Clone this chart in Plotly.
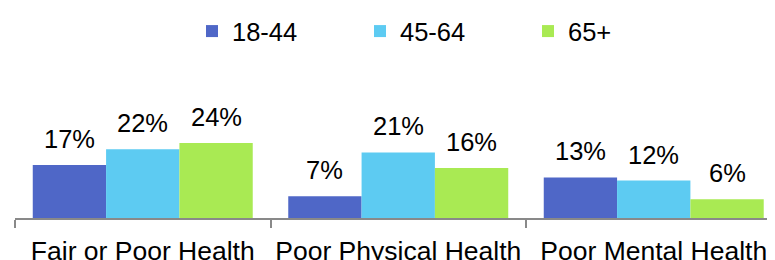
import plotly.graph_objects as go

categories = ["Fair or Poor Health", "Poor Physical Health", "Poor Mental Health"]
series_names = ["18-44", "45-64", "65+"]
values_18_44 = [17, 7, 13]
values_45_64 = [22, 21, 12]
values_65_plus = [24, 16, 6]
colors = ["#4F67C7", "#5DCBF2", "#A9EA53"]

all_values = [values_18_44, values_45_64, values_65_plus]
FONT = "Arial, Liberation Sans, sans-serif"
FS = 25.5
TICK_FS = 26.5
BARGAP = 0.139

# page body has an 8px margin, so the figure is sized to fill the rest of the window
W, H = 767, 252

fig = go.Figure()
for name, vals, col in zip(series_names, all_values, colors):
    fig.add_trace(go.Bar(
        x=categories, y=vals, name=name,
        marker=dict(color=col, line=dict(width=0)),
        hoverinfo="skip",
    ))

# value labels above each bar
bw = (1 - BARGAP) / len(series_names)
for j, vals in enumerate(all_values):
    for i, v in enumerate(vals):
        fig.add_annotation(
            x=i + (j - (len(series_names) - 1) / 2) * bw, y=v,
            xref="x", yref="y",
            text=f"{v}%", showarrow=False,
            yanchor="bottom", xanchor="center", yshift=10,
            font=dict(family=FONT, size=FS, color="#000000"),
        )

fig.update_layout(
    width=W, height=H,
    margin=dict(l=7, r=0, t=52, b=42, pad=0),
    barmode="group", bargap=BARGAP, bargroupgap=0,
    plot_bgcolor="white", paper_bgcolor="white",
    font=dict(family=FONT, size=FS, color="#000000"),
    showlegend=True,
    legend=dict(
        orientation="h", xref="container", yref="container",
        x=184 / W, xanchor="left", y=1.0, yanchor="top",
        entrywidth=123, entrywidthmode="pixels",
        font=dict(family=FONT, size=FS, color="#000000"),
        bgcolor="rgba(0,0,0,0)", traceorder="normal",
    ),
    xaxis=dict(
        type="category", range=[-0.5, 2.4746],
        tickson="boundaries", ticks="outside", ticklen=8,
        tickcolor="#898989", tickwidth=2,
        showline=True, linecolor="#898989", linewidth=2,
        showgrid=False, zeroline=False, automargin=False,
        tickangle=0, ticklabelstandoff=8,
        tickfont=dict(family=FONT, size=TICK_FS, color="#000000"),
    ),
    yaxis=dict(range=[0, 50.56], visible=False, showgrid=False, automargin=False),
)

fig.write_html("out.html")
